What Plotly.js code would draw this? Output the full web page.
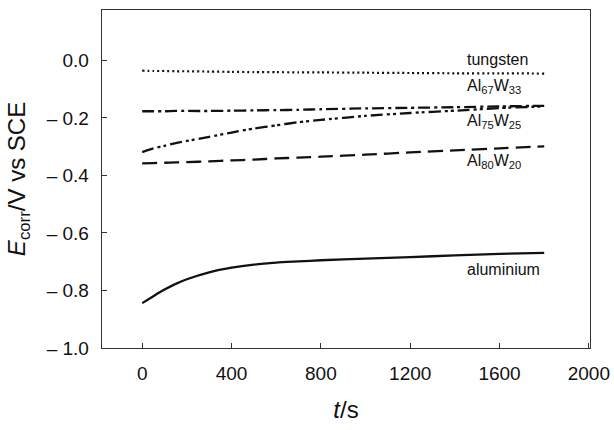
<!DOCTYPE html>
<html>
<head>
<meta charset="utf-8">
<script src="https://cdn.plot.ly/plotly-3.0.1.min.js"></script>
<style>html,body{margin:0;padding:0;background:#fff;}#chart{width:614px;height:430px;}</style>
</head>
<body>
<div id="chart"></div>
<script>
// time in seconds
var timeS = [0, 50, 100, 150, 200, 300, 400, 500, 600, 700, 800, 1000, 1200, 1400, 1600, 1800];
// E_corr in V vs SCE
var tungsten  = [-0.036, -0.037, -0.037, -0.038, -0.038, -0.039, -0.040, -0.041, -0.041, -0.042, -0.042, -0.043, -0.044, -0.045, -0.045, -0.046];
var al67w33   = [-0.177, -0.177, -0.177, -0.176, -0.176, -0.176, -0.175, -0.174, -0.173, -0.172, -0.170, -0.167, -0.165, -0.163, -0.160, -0.158];
var al75w25   = [-0.319, -0.306, -0.297, -0.288, -0.280, -0.266, -0.251, -0.237, -0.226, -0.215, -0.207, -0.193, -0.183, -0.175, -0.166, -0.160];
var al80w20   = [-0.358, -0.357, -0.356, -0.355, -0.354, -0.351, -0.348, -0.345, -0.341, -0.338, -0.335, -0.328, -0.320, -0.313, -0.306, -0.299];
var aluminium = [-0.844, -0.820, -0.797, -0.777, -0.761, -0.737, -0.721, -0.710, -0.703, -0.699, -0.695, -0.689, -0.684, -0.678, -0.673, -0.669];

var seriesNames = ['tungsten', 'Al<sub>67</sub>W<sub>33</sub>', 'Al<sub>75</sub>W<sub>25</sub>', 'Al<sub>80</sub>W<sub>20</sub>', 'aluminium'];

var xTickVals = [0, 400, 800, 1200, 1600, 2000];
var xTickText = ['0', '400', '800', '1200', '1600', '2000'];
var yTickVals = [0.0, -0.2, -0.4, -0.6, -0.8, -1.0];
var yTickText = ['0.0', '\u2013 0.2', '\u2013 0.4', '\u2013 0.6', '\u2013 0.8', '\u2013 1.0'];

var FONT = 'Liberation Sans, Arial, Helvetica, sans-serif';
var lineColor = '#111';
var textColor = '#111';

function tr(y, dash, w) {
  return {x: timeS, y: y, type: 'scatter', mode: 'lines',
    line: {color: lineColor, width: w || 2.3, dash: dash, shape: 'spline', smoothing: 0.6},
    showlegend: false, hoverinfo: 'skip'};
}

var data = [
  tr(tungsten, '2px,3px', 2.2),
  tr(al67w33, '12px,4px,3px,4px', 2.3),
  tr(al75w25, '12px,4px,3px,3px,3px,4px', 2.3),
  tr(al80w20, '15px,7px', 2.3),
  tr(aluminium, 'solid', 2.3)
];

var labelX = 1445;
var labelY = [0.004, -0.092, -0.214, -0.350, -0.727];
var annotations = seriesNames.map(function (n, i) {
  return {x: labelX, y: labelY[i], xref: 'x', yref: 'y', text: n, showarrow: false,
    xanchor: 'left', yanchor: 'middle', font: {family: FONT, size: 16, color: textColor}};
});

var layout = {
  width: 614, height: 430,
  margin: {l: 102, r: 24, t: 10, b: 82},
  paper_bgcolor: '#fff', plot_bgcolor: '#fff',
  font: {family: FONT, color: textColor},
  xaxis: {
    range: [-180, 2005], tickmode: 'array', tickvals: xTickVals, ticktext: xTickText,
    ticks: 'inside', ticklen: 5, tickwidth: 1, tickcolor: '#333',
    showline: true, linecolor: '#333', linewidth: 1.3, mirror: true,
    showgrid: false, zeroline: false,
    tickfont: {family: FONT, size: 19, color: textColor},
    ticklabelstandoff: 8,
    title: {text: '<i>t</i>/s', font: {family: FONT, size: 24, color: textColor}, standoff: 18}
  },
  yaxis: {
    range: [-1.0, 0.175], tickmode: 'array', tickvals: yTickVals, ticktext: yTickText,
    ticks: 'inside', ticklen: 5, tickwidth: 1, tickcolor: '#333',
    showline: true, linecolor: '#333', linewidth: 1.3, mirror: true,
    showgrid: false, zeroline: false,
    tickfont: {family: FONT, size: 19, color: textColor},
    ticklabelstandoff: 8,
    title: {text: '<i>E</i><sub>corr</sub>/V vs SCE', font: {family: FONT, size: 24, color: textColor}, standoff: 14}
  },
  annotations: annotations
};

Plotly.newPlot('chart', data, layout, {displayModeBar: false, staticPlot: true});
</script>
</body>
</html>
